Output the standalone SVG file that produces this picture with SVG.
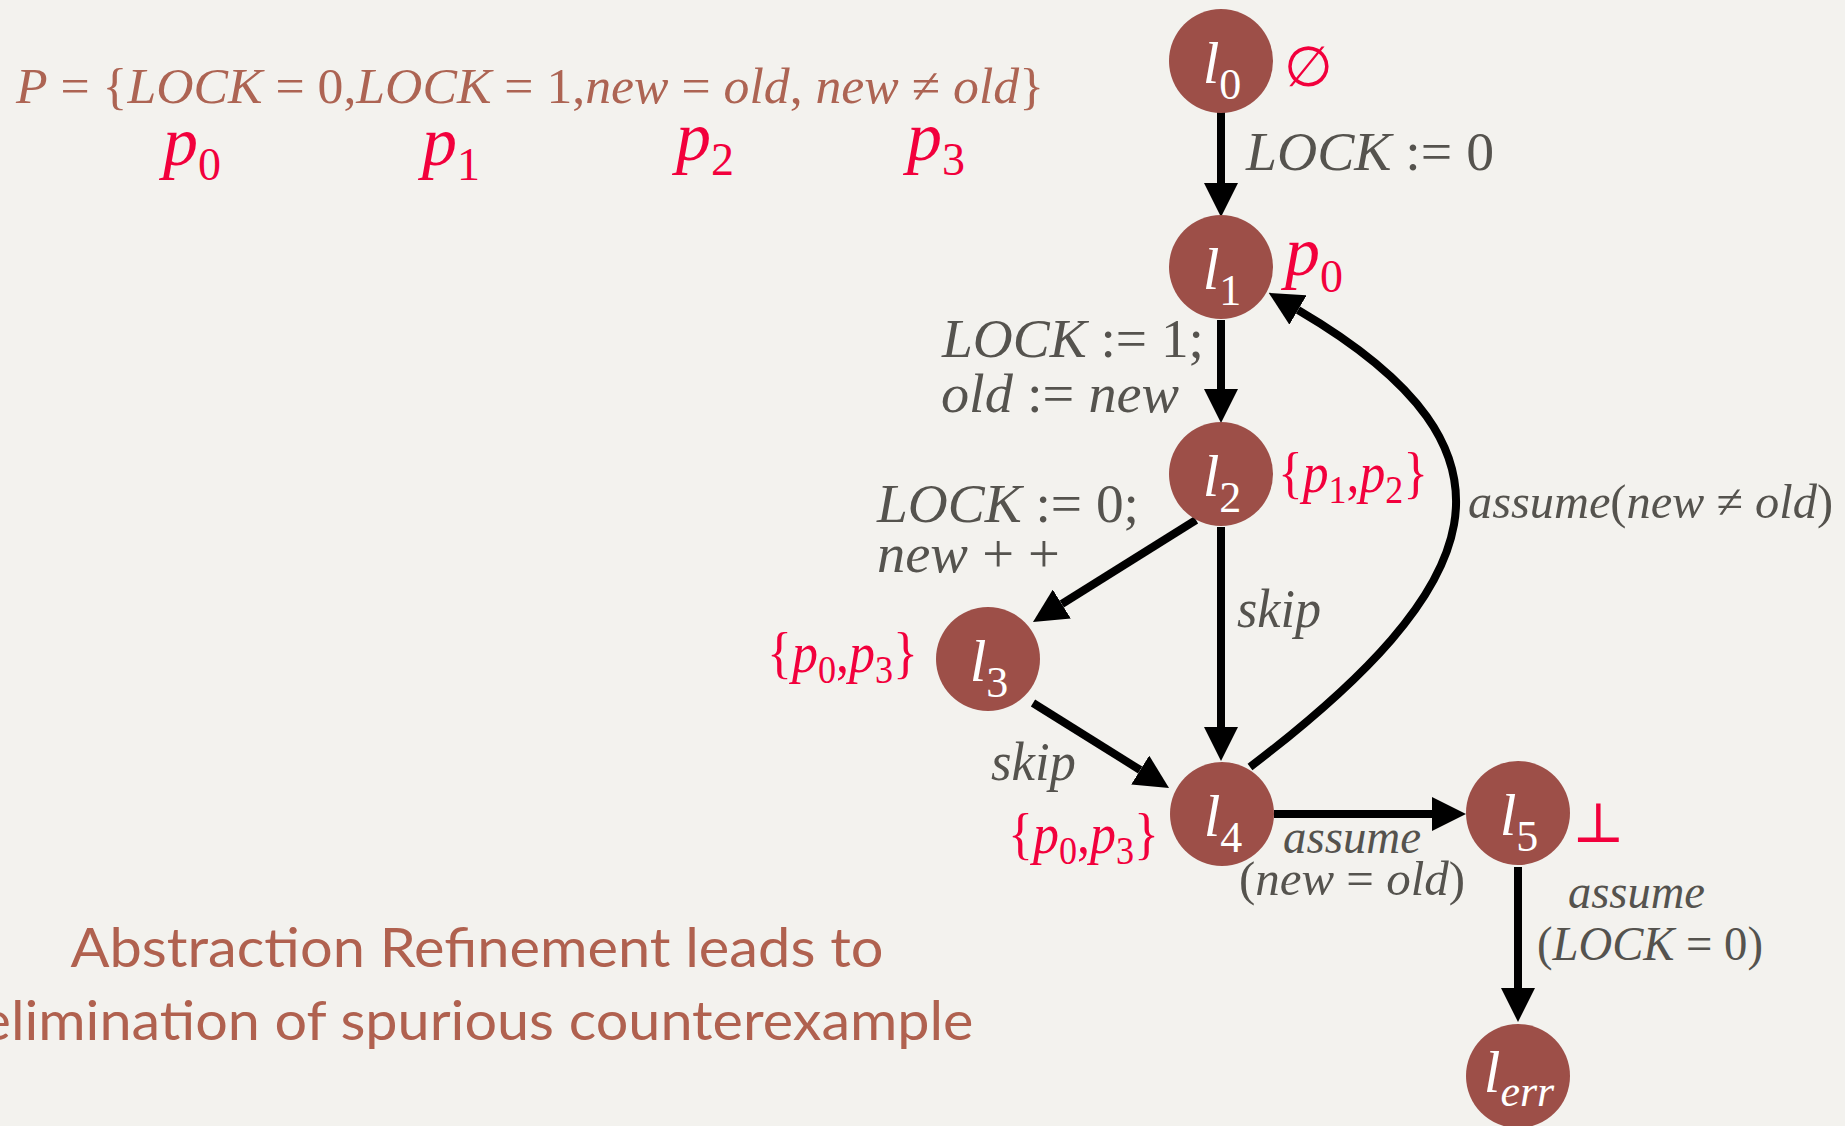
<svg xmlns="http://www.w3.org/2000/svg" width="1845" height="1126" viewBox="0 0 1845 1126">
<defs>
<style>
.bg{fill:#f3f2ee}
.node{fill:#9d4f48}
.nl{font-family:'Liberation Serif',serif;font-style:italic;font-size:60px;fill:#ffffff}
.ns{font-style:normal;font-size:44px}
.nse{font-style:italic;font-size:44px}
.edge{stroke:#000;stroke-width:8;fill:none}
.lbl{font-family:'Liberation Serif',serif;font-size:54px;fill:#55534e}
.lbs{font-family:'Liberation Serif',serif;font-size:48px;fill:#55534e}
.it{font-style:italic}
.red{font-family:'Liberation Serif',serif;font-size:56px;fill:#f2003c}
.redp{font-family:'Liberation Serif',serif;font-size:70px;fill:#f2003c}
.sub{font-size:39px;font-style:normal}
.subp{font-size:46px;font-style:normal}
.sym{font-family:'DejaVu Serif','DejaVu Sans',serif;fill:#f2003c}
.pline{font-family:'Liberation Serif',serif;font-size:50px;fill:#ad6453}
.title{font-family:Lato,'Open Sans',sans-serif;font-size:54px;fill:#b0614f}
</style>
<marker id="ah" markerUnits="userSpaceOnUse" markerWidth="34" markerHeight="34" refX="0" refY="17" orient="auto" viewBox="0 0 34 34"><path d="M0,0 L34,17 L0,34 z" fill="#000"/></marker>
</defs>
<rect class="bg" x="0" y="0" width="1845" height="1126"/>

<g id="header">
<text class="pline" x="16" y="103" textLength="1028" lengthAdjust="spacingAndGlyphs"><tspan class="it">P</tspan> = {<tspan class="it">LOCK</tspan> = 0,<tspan class="it">LOCK</tspan> = 1,<tspan class="it">new</tspan> = <tspan class="it">old</tspan>, <tspan class="it">new</tspan> ≠ <tspan class="it">old</tspan>}</text>
<text class="redp" x="163" y="165"><tspan class="it">p</tspan><tspan class="subp" dy="15">0</tspan></text>
<text class="redp" x="422" y="165"><tspan class="it">p</tspan><tspan class="subp" dy="15">1</tspan></text>
<text class="redp" x="676" y="160"><tspan class="it">p</tspan><tspan class="subp" dy="15">2</tspan></text>
<text class="redp" x="907" y="160"><tspan class="it">p</tspan><tspan class="subp" dy="15">3</tspan></text>
</g>

<g id="connectors">
<path class="edge" marker-end="url(#ah)" d="M1221,112 L1221,183"/>
<path class="edge" marker-end="url(#ah)" d="M1221,320 L1221,389"/>
<path class="edge" marker-end="url(#ah)" d="M1221,527 L1221,727"/>
<path class="edge" marker-end="url(#ah)" d="M1196,520 L1061.8,604"/>
<path class="edge" marker-end="url(#ah)" d="M1033,703 L1140.2,770"/>
<path class="edge" marker-end="url(#ah)" d="M1274,814 L1432,814"/>
<path class="edge" marker-end="url(#ah)" d="M1518,867 L1518,988"/>
<path class="edge" marker-end="url(#ah)" d="M1250,767 C1486,587 1542,453 1298,310"/>
</g>

<g id="l0"><circle class="node" cx="1221" cy="61" r="52"/><text class="nl" x="1222" y="83" text-anchor="middle">l<tspan class="ns" dy="16">0</tspan></text></g>
<g id="l1"><circle class="node" cx="1221" cy="267" r="52"/><text class="nl" x="1222" y="289" text-anchor="middle">l<tspan class="ns" dy="16">1</tspan></text></g>
<g id="l2"><circle class="node" cx="1221" cy="474" r="52"/><text class="nl" x="1222" y="496" text-anchor="middle">l<tspan class="ns" dy="16">2</tspan></text></g>
<g id="l3"><circle class="node" cx="988" cy="659" r="52"/><text class="nl" x="989" y="681" text-anchor="middle">l<tspan class="ns" dy="16">3</tspan></text></g>
<g id="l4"><circle class="node" cx="1222" cy="814" r="52"/><text class="nl" x="1223" y="836" text-anchor="middle">l<tspan class="ns" dy="16">4</tspan></text></g>
<g id="l5"><circle class="node" cx="1518" cy="813" r="52"/><text class="nl" x="1519" y="835" text-anchor="middle">l<tspan class="ns" dy="16">5</tspan></text></g>
<g id="lerr"><circle class="node" cx="1518" cy="1076" r="52"/><text class="nl" x="1519" y="1092" text-anchor="middle">l<tspan class="nse" dy="14">err</tspan></text></g>

<g id="labels">
<text class="lbl" x="1246" y="170" textLength="248" lengthAdjust="spacingAndGlyphs"><tspan class="it">LOCK</tspan> := 0</text>
<text class="lbl" x="942" y="357" textLength="262" lengthAdjust="spacingAndGlyphs"><tspan class="it">LOCK</tspan> := 1;</text>
<text class="lbl" x="941" y="412" textLength="238" lengthAdjust="spacingAndGlyphs"><tspan class="it">old</tspan> := <tspan class="it">new</tspan></text>
<text class="lbl" x="877" y="522" textLength="262" lengthAdjust="spacingAndGlyphs"><tspan class="it">LOCK</tspan> := 0;</text>
<text class="lbl" x="877" y="572" textLength="183" lengthAdjust="spacingAndGlyphs"><tspan class="it">new</tspan> + +</text>
<text class="lbl it" x="1237" y="627" textLength="84" lengthAdjust="spacingAndGlyphs">skip</text>
<text class="lbl it" x="991" y="780" textLength="85" lengthAdjust="spacingAndGlyphs">skip</text>
<text class="lbs it" x="1283" y="853" textLength="138" lengthAdjust="spacingAndGlyphs">assume</text>
<text class="lbs" x="1239" y="895" textLength="226" lengthAdjust="spacingAndGlyphs">(<tspan class="it">new</tspan> = <tspan class="it">old</tspan>)</text>
<text class="lbs" x="1468" y="518" textLength="365" lengthAdjust="spacingAndGlyphs"><tspan class="it">assume</tspan>(<tspan class="it">new</tspan> ≠ <tspan class="it">old</tspan>)</text>
<text class="lbs it" x="1568" y="908" textLength="137" lengthAdjust="spacingAndGlyphs">assume</text>
<text class="lbs" x="1537" y="960" textLength="226" lengthAdjust="spacingAndGlyphs">(<tspan class="it">LOCK</tspan> = 0)</text>

<text class="sym" x="1284" y="86" font-size="56">∅</text>
<text class="redp" x="1285" y="275" font-size="72"><tspan class="it">p</tspan><tspan class="subp" font-size="48" dy="17">0</tspan></text>
<text class="red" x="1278" y="492" textLength="150" lengthAdjust="spacingAndGlyphs">{<tspan class="it">p</tspan><tspan class="sub" dy="11">1</tspan><tspan dy="-11">,</tspan><tspan class="it">p</tspan><tspan class="sub" dy="11">2</tspan><tspan dy="-11">}</tspan></text>
<text class="red" x="767" y="672" textLength="151" lengthAdjust="spacingAndGlyphs">{<tspan class="it">p</tspan><tspan class="sub" dy="11">0</tspan><tspan dy="-11">,</tspan><tspan class="it">p</tspan><tspan class="sub" dy="11">3</tspan><tspan dy="-11">}</tspan></text>
<text class="red" x="1008" y="853" textLength="151" lengthAdjust="spacingAndGlyphs">{<tspan class="it">p</tspan><tspan class="sub" dy="11">0</tspan><tspan dy="-11">,</tspan><tspan class="it">p</tspan><tspan class="sub" dy="11">3</tspan><tspan dy="-11">}</tspan></text>
<text class="sym" x="1572" y="842" font-size="56">⊥</text>
</g>

<g id="caption">
<text class="title" x="477" y="967" text-anchor="middle" textLength="813" lengthAdjust="spacingAndGlyphs">Abstraction Refinement leads to</text>
<text class="title" x="477" y="1040" text-anchor="middle" textLength="993" lengthAdjust="spacingAndGlyphs">elimination of spurious counterexample</text>
</g>
</svg>
